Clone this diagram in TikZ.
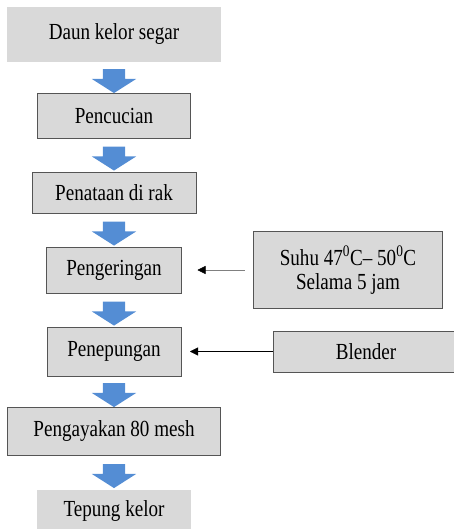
\documentclass[tikz,border=0pt]{standalone}
\usepackage{fontspec}
\setmainfont{Liberation Serif}[FakeStretch=0.83]
\usetikzlibrary{positioning}
\usetikzlibrary{shapes.arrows}
\usetikzlibrary{arrows.meta}
\definecolor{boxgray}{RGB}{217,217,217}
\definecolor{boxline}{RGB}{85,85,85}
\definecolor{arrowblue}{RGB}{84,141,212}

\begin{document}
\begin{tikzpicture}
    [x=1pt, y=1pt,
     every node/.style={font=\fontsize{23}{24}\selectfont, inner sep=0pt, outer sep=0pt},
     plainbox/.style={fill=boxgray},
     stepbox/.style={fill=boxgray, draw=boxline, line width=0.8pt},
     blockarrow/.style={single arrow, fill=arrowblue, rotate=-90,
       inner xsep=0pt, inner ysep=11pt,
       minimum height=24pt, minimum width=44pt,
       single arrow head extend=11pt, single arrow tip angle=115}]
    \useasboundingbox (0,0) rectangle (454,-529);

    \node (daun) [plainbox, minimum width=214pt, minimum height=55pt] at (114,-34.5) {Daun kelor segar};
    \node (cuci) [stepbox, minimum width=153pt, minimum height=45pt, below = 31pt of daun] {Pencucian};
    \node (tata) [stepbox, minimum width=164pt, minimum height=41pt, below = 34pt of cuci] {Penataan di rak};
    \node (kering) [stepbox, minimum width=135pt, minimum height=46pt, below = 34pt of tata] {Pengeringan};
    \node (tepungan) [stepbox, minimum width=134pt, minimum height=49pt, below = 34pt of kering] {Penepungan};
    \node (ayak) [stepbox, minimum width=213pt, minimum height=48pt, below = 31pt of tepungan] {Pengayakan 80 mesh};
    \node (tepung) [plainbox, minimum width=154pt, minimum height=42pt, below = 35pt of ayak] {Tepung kelor};

    \node (suhu) [stepbox, align=center, minimum width=189pt, minimum height=77pt, right = 72pt of kering]
      {Suhu 47\textsuperscript{0}C– 50\textsuperscript{0}C\\Selama 5 jam};
    \node (blender) [stepbox, minimum width=186pt, minimum height=41pt, right = 92pt of tepungan] {Blender};

    \path (daun) -- (cuci) node[midway, blockarrow] {};
    \path (cuci) -- (tata) node[midway, blockarrow] {};
    \path (tata) -- (kering) node[midway, blockarrow] {};
    \path (kering) -- (tepungan) node[midway, blockarrow] {};
    \path (tepungan) -- (ayak) node[midway, blockarrow] {};
    \path (ayak) -- (tepung) node[midway, blockarrow] {};

    \draw[gray, -{Triangle[length=8pt, width=8pt, black]}, shorten <= 9pt, shorten >= 16pt] (suhu) -- (kering);
    \draw[-{Triangle[length=8pt, width=8pt]}, shorten >= 9pt] (blender) -- (tepungan);

  \end{tikzpicture}
\end{document}
